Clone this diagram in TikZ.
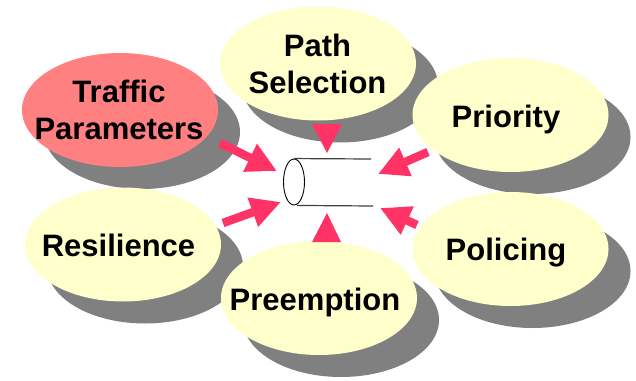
\documentclass[tikz,border=0pt]{standalone}
\usepackage{fontspec}
\setmainfont{Liberation Sans}
\usetikzlibrary{shapes.geometric,arrows.meta,shadows}
\definecolor{bubble}{HTML}{FFFFCC}
\definecolor{hotbubble}{HTML}{FF8080}
\definecolor{shadowgray}{HTML}{808080}
\definecolor{arrowpink}{HTML}{FF3366}
\definecolor{pipeline}{HTML}{404040}
\begin{document}
\begin{tikzpicture}[x=1pt,y=-1pt,
  bubblebox/.style={ellipse, fill=bubble, minimum width=196pt, minimum height=114pt, inner sep=0pt,
    drop shadow={shadow xshift=22pt, shadow yshift=-22pt, fill=shadowgray, opacity=1}},
  hotbox/.style={bubblebox, fill=hotbubble},
  labeltext/.style={font=\bfseries\fontsize{31}{37}\selectfont, inner sep=0pt, align=center},
  pinkarrow/.style={draw=arrowpink, line width=8.5pt, -{Triangle[length=30pt,width=29pt]}, shorten <=0pt},
  pinktip/.style={draw=none, fill=arrowpink},
  pipeedge/.style={draw=pipeline, line width=1.2pt}
]
\useasboundingbox (0,0) rectangle (636,380);

% bubbles
\node[hotbox] (traffic) at (120,110) {};
\node[labeltext] (traffictext) at (119,110) {Traffic\\Parameters};

\node[bubblebox] (path) at (318,63.5) {};
\node[labeltext] (pathtext) at (317.5,64) {Path\\Selection};

\node[bubblebox] (priority) at (510.5,115) {};
\node[labeltext, anchor=base] (prioritytext) at (506,127) {Priority};

\node[bubblebox] (resilience) at (123,244.5) {};
\node[labeltext, anchor=base] (resiliencetext) at (118.5,256) {Resilience};

\node[bubblebox] (policing) at (510.5,249) {};
\node[labeltext, anchor=base] (policingtext) at (506,260) {Policing};

\node[bubblebox] (preemption) at (319,298) {};
\node[labeltext, anchor=base] (preemptiontext) at (315,310) {Preemption};

% pipe
\node[draw=black, line width=0.9pt, ellipse, minimum width=21pt, minimum height=46pt, inner sep=0pt] (pipe) at (294,182) {};
\coordinate (pipetopend) at (371,159);
\coordinate (pipebotend) at (373,206);
\draw[pipeedge] (pipe.north) -- (pipetopend);
\draw[pipeedge] ([xshift=3pt]pipe.south) -- (pipebotend);

% arrows
\coordinate (tipA) at (277,171);
\coordinate (tipB) at (281,202);
\coordinate (tipC) at (378,174);
\coordinate (tipD) at (380,208);
\coordinate (tipE) at (327,153);
\coordinate (tipF) at (327,213);
\coordinate (startA) at (220,143);
\coordinate (startB) at (223,223);
\coordinate (startC) at (428,152);
\coordinate (startD) at (417,225);
\draw[pinkarrow] (startA) -- (tipA);
\draw[pinkarrow] (startB) -- (tipB);
\draw[pinkarrow] (startC) -- (tipC);
\draw[pinkarrow] (startD) -- (tipD);
\coordinate (baseEl) at (312,124);
\coordinate (baseEr) at (342,124);
\coordinate (baseFl) at (312,242);
\coordinate (baseFr) at (341,242);
\fill[pinktip] (baseEl) -- (baseEr) -- (tipE) -- cycle;
\fill[pinktip] (baseFl) -- (baseFr) -- (tipF) -- cycle;
\end{tikzpicture}
\end{document}
